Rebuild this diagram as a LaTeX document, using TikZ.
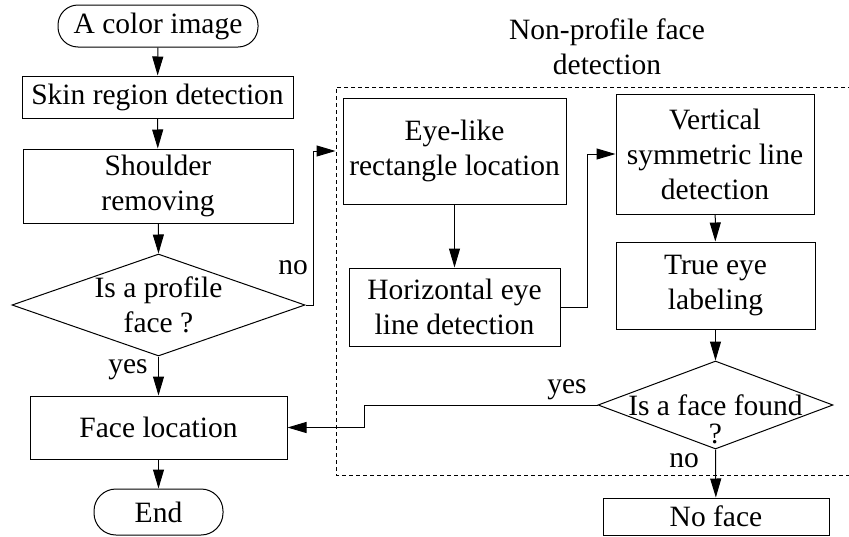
\documentclass[tikz,border=0pt]{standalone}
\usepackage{fontspec}
\setmainfont{Liberation Serif}
\usetikzlibrary{arrows.meta,shapes.geometric}
\begin{document}
\begin{tikzpicture}[x=1pt,y=-1pt,
  font=\fontsize{29.5}{35}\selectfont,
  base/.style={draw=black,line width=1pt,inner sep=0pt,align=center},
  boxnode/.style={base,rectangle},
  term/.style={base,rounded corners=20pt},
  dia/.style={base,diamond},
  txt/.style={inner sep=0pt,align=center},
  arr/.style={line width=1pt,-{Triangle[length=19pt,width=11pt]}},
  ln/.style={line width=1pt}]
\useasboundingbox (0,0) rectangle (849,536);
% dashed group frame
\coordinate (dtr) at (852,87);
\coordinate (dtl) at (336,87);
\coordinate (dbl) at (336,475);
\coordinate (dbr) at (852,475);
\draw[line width=0.8pt,dash pattern=on 4pt off 3pt] (dtr) -- (dtl) -- (dbl) -- (dbr);
\node[txt] (title) at (607,47) {Non-profile face\\detection};
% left column
\node[term,minimum width=200pt,minimum height=42pt] (start) at (158,26) {A color image};
\node[boxnode,minimum width=271pt,minimum height=42pt] (skin) at (157.5,97) {Skin region detection};
\node[boxnode,minimum width=270pt,minimum height=74pt] (shoulder) at (158,186) {Shoulder\\removing};
\node[dia,minimum width=293pt,minimum height=102pt] (dia1) at (158.5,305) {};
\node[txt] (dia1t) at (158.5,305) {Is a profile\\face ?};
\node[boxnode,minimum width=257pt,minimum height=63pt] (face) at (158.5,427.5) {Face location};
\node[term,minimum width=129pt,minimum height=46pt,rounded corners=22pt] (endn) at (158.5,512) {End};
% right part
\node[boxnode,minimum width=223pt,minimum height=106pt] (eye) at (454.5,151) {Eye-like\\rectangle location};
\node[boxnode,minimum width=211pt,minimum height=78pt] (horiz) at (454.5,307) {Horizontal eye\\line detection};
\node[boxnode,minimum width=198pt,minimum height=120pt] (vert) at (715,154) {Vertical\\symmetric line\\detection};
\node[boxnode,minimum width=199pt,minimum height=87pt] (true) at (715.5,285.5) {True eye\\labeling};
\node[dia,minimum width=235pt,minimum height=88pt] (dia2) at (715.5,405) {};
\node[txt] (dia2t) at (715.5,419) {Is a face found\\[-7pt]?};
\node[boxnode,minimum width=226pt,minimum height=37pt] (noface) at (716,516.5) {No face};
% labels
\node[txt] (lno1) at (293,268) {no};
\node[txt] (lyes1) at (128,370) {yes};
\node[txt] (lyes2) at (567,390) {yes};
\node[txt] (lno2) at (684,461) {no};
% helper coordinates
\coordinate (nox) at (313,151);
\coordinate (hvx) at (587,154);
\coordinate (yc) at (364,405);
% connectors
\draw[arr] (start) -- (skin);
\draw[arr] (skin) -- (shoulder);
\draw[arr] (shoulder) -- (dia1.north);
\draw[arr] (dia1.south) -- (face);
\draw[arr] (face) -- (endn);
\draw[ln] (dia1.east) -| (nox);
\draw[arr,shorten >=7pt] (nox) -- (eye.west);
\draw[arr] (eye) -- (horiz);
\draw[ln] (horiz.east) -| (hvx);
\draw[arr] (hvx) -- (vert.west);
\draw[arr] (vert) -- (true);
\draw[arr] (true) -- (dia2.north);
\draw[ln] (dia2.west) -- (yc);
\draw[arr] (yc) |- (face.east);
\draw[arr] (dia2.south) -- (noface);
\end{tikzpicture}
\end{document}
